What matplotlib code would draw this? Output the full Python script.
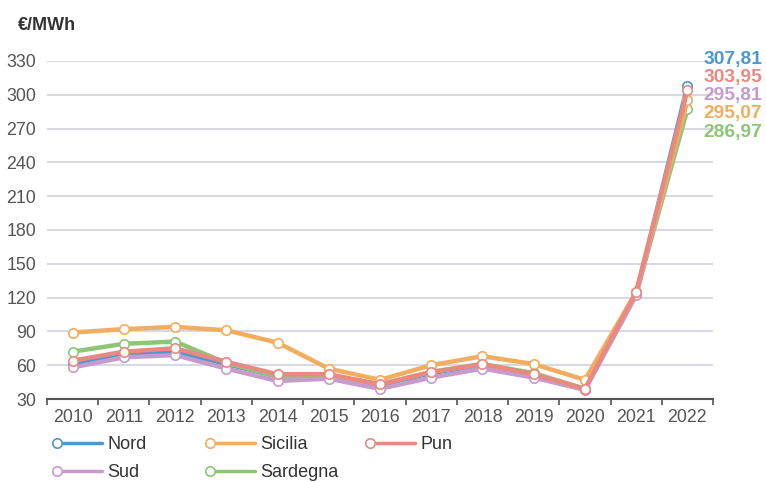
"""Prezzi medi annui dell'energia elettrica per zona, 2010-2022."""
import matplotlib.pyplot as plt

plt.rcParams["font.family"] = ["Liberation Sans", "DejaVu Sans"]

# ------------------ DATA ------------------ #
YEARS = ["2010", "2011", "2012", "2013", "2014", "2015", "2016",
         "2017", "2018", "2019", "2020", "2021", "2022"]
NORD = [60, 70, 72, 61, 50, 50, 42, 53, 60, 51, 39, 123, 307.81]
SICILIA = [89, 92, 94, 91, 80, 57, 47, 60, 68, 61, 47, 125, 295.07]
PUN = [64, 72, 75, 63, 52, 52, 43, 54, 61, 52, 39, 125, 303.95]
SUD = [58, 67, 69, 57, 46, 48, 39, 49, 57, 49, 38, 122, 295.81]
SARDEGNA = [72, 79, 81, 62, 50, 51, 43, 54, 61, 53, 39, 124, 286.97]
FINAL_LABELS = ["307,81", "303,95", "295,81", "295,07", "286,97"]
Y_TICKS = [30, 60, 90, 120, 150, 180, 210, 240, 270, 300, 330]
# ---------------- END DATA ---------------- #

C_NORD = "#4f97cf"
C_SICILIA = "#f3ad5e"
C_PUN = "#e98a80"
C_SUD = "#c79ccd"
C_SARDEGNA = "#8cc775"

fig = plt.figure(figsize=(7.66, 4.82), dpi=100)
ax = fig.add_axes([47 / 766, 1 - 399 / 482, 666 / 766, 338 / 482])

x = range(len(YEARS))
series = {
    "Nord": (NORD, C_NORD),
    "Sardegna": (SARDEGNA, C_SARDEGNA),
    "Sud": (SUD, C_SUD),
    "Sicilia": (SICILIA, C_SICILIA),
    "Pun": (PUN, C_PUN),
}
lines = {}
for name, (vals, col) in series.items():
    (ln,) = ax.plot(x, vals, color=col, lw=3.2, marker="o", ms=6.8,
                    mfc="white", mec=col, mew=1.2, solid_capstyle="round",
                    zorder=3)
    lines[name] = ln

ax.set_xlim(-0.5, 12.5)
ax.set_ylim(30, 330)
ax.set_yticks(Y_TICKS)
ax.set_xticks([i + 0.5 for i in range(-1, 13)], minor=False)
ax.set_xticklabels([])
ax.set_xticks(list(x), minor=True)
ax.set_xticklabels(YEARS, minor=True)
ax.tick_params(axis="x", which="major", length=4, width=1.2, color="#555555")
ax.tick_params(axis="x", which="minor", length=0, pad=7, labelsize=12.8,
               labelcolor="#555555")
ax.tick_params(axis="y", length=0, pad=8, labelsize=12.8, labelcolor="#555555")

for s in ("top", "right", "left"):
    ax.spines[s].set_visible(False)
ax.spines["bottom"].set_color("#555555")
ax.spines["bottom"].set_linewidth(1.5)
ax.grid(axis="y", color="#d9d9e3", lw=1.5)
ax.set_axisbelow(True)

# values at the end of the series
label_cols = [C_NORD, C_PUN, C_SUD, C_SICILIA, C_SARDEGNA]
label_y = [331.5, 315.5, 299.5, 283.5, 266.6]
for txt, col, yy in zip(FINAL_LABELS, label_cols, label_y):
    ax.text(12.31, yy, txt, color=col, fontsize=13.8, fontweight="bold",
            ha="left", va="center", clip_on=False)

fig.text(18 / 766, 1 - 25 / 482, "€/MWh", fontsize=13, fontweight="bold",
         color="#333333", ha="left", va="center")

# legend, one block per column, circle at the left end of each handle
columns = [(["Nord", "Sud"], 57), (["Sicilia", "Sardegna"], 210), (["Pun"], 370)]
for names, px in columns:
    leg = fig.legend([lines[n] for n in names], names, loc="upper left",
                     bbox_to_anchor=(px / 766, 1 - 436 / 482), frameon=False,
                     fontsize=13, handlelength=2.5, handletextpad=0.3,
                     labelspacing=0.62, borderpad=0, borderaxespad=0,
                     labelcolor="#333333", numpoints=1)
    for h in leg.legend_handles:
        h.set_linewidth(2.5)
        h.set_markevery([0])

fig.savefig("out.png", dpi=100)
